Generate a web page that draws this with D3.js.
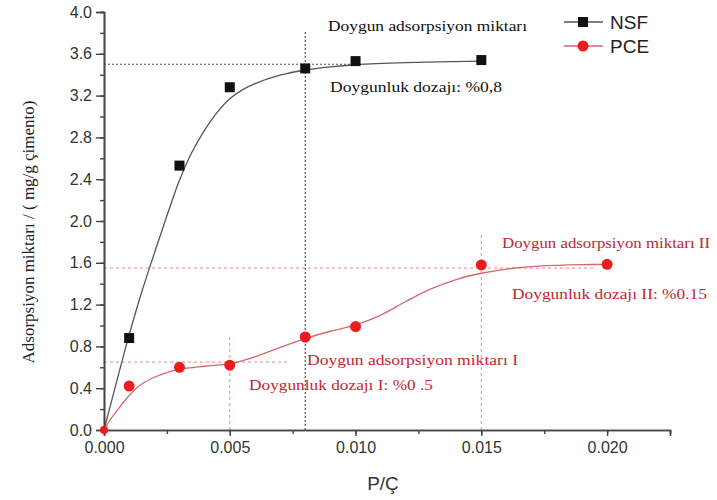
<!DOCTYPE html>
<html>
<head>
<meta charset="utf-8">
<script src="https://cdn.jsdelivr.net/npm/d3@7"></script>
<style>
  html, body { margin: 0; padding: 0; background: #fff; }
  svg { display: block; }
</style>
</head>
<body>
<svg id="chart" width="717" height="500"></svg>
<script>
// Measured adsorption points (dosage P/Ç vs adsorbed amount, mg/g cement)
const dosages = [0, 0.001, 0.003, 0.005, 0.008, 0.010, 0.015, 0.020];
const nsfValues = [0, 0.88, 2.53, 3.28, 3.46, 3.53, 3.54, null];
const pceValues = [0, 0.42, 0.60, 0.62, 0.89, 0.99, 1.58, 1.585];

// Fitted curves, sampled along the dosage axis
const nsfFitX = [0, 0.0005, 0.001, 0.0015, 0.002, 0.0025, 0.003, 0.0035, 0.004, 0.0045, 0.005, 0.0055, 0.006, 0.007, 0.008, 0.009, 0.010, 0.012, 0.015];
const nsfFitY = [0, 0.46, 0.91, 1.32, 1.69, 2.05, 2.39, 2.66, 2.87, 3.04, 3.17, 3.255, 3.315, 3.395, 3.445, 3.475, 3.495, 3.515, 3.53];
const pceFitX = [0, 0.00025, 0.0005, 0.001, 0.0015, 0.002, 0.0025, 0.003, 0.004, 0.005, 0.006, 0.007, 0.008, 0.009, 0.010, 0.011, 0.012, 0.013, 0.014, 0.015, 0.016, 0.017, 0.018, 0.019, 0.020];
const pceFitY = [0, 0.10, 0.18, 0.33, 0.44, 0.505, 0.55, 0.58, 0.61, 0.635, 0.70, 0.79, 0.875, 0.945, 1.005, 1.10, 1.23, 1.35, 1.44, 1.50, 1.54, 1.563, 1.575, 1.582, 1.585];

// Saturation guide lines: [x1, y1, x2, y2] in data units
const nsfGuides = [[0, 3.5, 0.010, 3.5], [0.008, 0, 0.008, 3.82]];
const pceGuides = [[0, 1.55, 0.0195, 1.55], [0.015, 0, 0.015, 1.87], [0, 0.65, 0.0073, 0.65], [0.005, 0, 0.005, 0.9]];

// Annotation texts
const nsfNotes = ["Doygun adsorpsiyon miktarı", "Doygunluk dozajı: %0,8"];
const pceNotes = ["Doygun adsorpsiyon miktarı II", "Doygunluk dozajı II: %0.15", "Doygun adsorpsiyon miktarı I", "Doygunluk dozajı I: %0 .5"];

const seriesNames = ["NSF", "PCE"];
const xTicks = [0, 0.005, 0.010, 0.015, 0.020];
const yTicks = [0, 0.4, 0.8, 1.2, 1.6, 2.0, 2.4, 2.8, 3.2, 3.6, 4.0];
const xLabel = "P/Ç";
const yLabel = "Adsorpsiyon miktarı / ( mg/g çimento)";

const svg = d3.select("#chart");
const m = { left: 104, top: 12, right: 670, bottom: 430 };

const x = d3.scaleLinear().domain([0, 0.0225]).range([m.left, m.right]);
const y = d3.scaleLinear().domain([0, 4.0]).range([m.bottom, m.top]);

const BLACK = "#111";
const RED = "#ec1c1c";
const RED_TEXT = "#c4262e";
const RED_LINE = "#d8676b";
const RED_GUIDE = "#e9a0a3";
const GREY_LINE = "#555";

// Guide lines
const guideG = svg.append("g");
guideG.selectAll("line.nsf").data(nsfGuides).join("line")
  .attr("x1", d => x(d[0])).attr("y1", d => y(d[1]))
  .attr("x2", d => x(d[2])).attr("y2", d => y(d[3]))
  .attr("stroke", "#555").attr("stroke-width", 1.2).attr("stroke-dasharray", "2,2");
guideG.selectAll("line.pce").data(pceGuides).join("line")
  .attr("x1", d => x(d[0])).attr("y1", d => y(d[1]))
  .attr("x2", d => x(d[2])).attr("y2", d => y(d[3]))
  .attr("stroke", RED_GUIDE).attr("stroke-width", 1.2).attr("stroke-dasharray", "3,3");

// Fitted curves
const line = d3.line().x(d => x(d[0])).y(d => y(d[1])).curve(d3.curveCatmullRom.alpha(0.5));
svg.append("path").datum(nsfFitX.map((v, i) => [v, nsfFitY[i]]))
  .attr("d", line).attr("fill", "none").attr("stroke", GREY_LINE).attr("stroke-width", 1.3);
svg.append("path").datum(pceFitX.map((v, i) => [v, pceFitY[i]]))
  .attr("d", line).attr("fill", "none").attr("stroke", RED_LINE).attr("stroke-width", 1.3);

// Axes
const xAxis = d3.axisBottom(x).tickValues(xTicks).tickFormat(d3.format(".3f")).tickSize(6).tickPadding(6);
const yAxis = d3.axisLeft(y).tickValues(yTicks).tickFormat(d3.format(".1f")).tickSize(8).tickPadding(4);
const xMinor = d3.axisBottom(x).tickValues(d3.range(0, 0.0226, 0.0025)).tickFormat("").tickSize(4);
const yMinor = d3.axisLeft(y).tickValues(d3.range(0, 4.01, 0.2)).tickFormat("").tickSize(4);

function styleAxis(g) {
  g.select(".domain").attr("stroke", "#444").attr("stroke-width", 1.6);
  g.selectAll(".tick line").attr("stroke", "#444").attr("stroke-width", 1.4);
  g.selectAll(".tick text").attr("fill", "#333").attr("font-family", "'Liberation Sans', Arial, sans-serif").attr("font-size", 16);
}
svg.append("g").attr("transform", `translate(0,${m.bottom})`).call(xMinor).call(styleAxis);
svg.append("g").attr("transform", `translate(${m.left},0)`).call(yMinor).call(styleAxis);
svg.append("g").attr("transform", `translate(0,${m.bottom})`).call(xAxis).call(styleAxis);
svg.append("g").attr("transform", `translate(${m.left},0)`).call(yAxis).call(styleAxis);

// Axis titles
svg.append("text").attr("x", 383).attr("y", 490).attr("text-anchor", "middle")
  .attr("font-family", "'Liberation Sans', Arial, sans-serif").attr("font-size", 19).attr("fill", "#333")
  .text(xLabel);
svg.append("text").attr("transform", "translate(34,232) rotate(-90)").attr("text-anchor", "middle")
  .attr("font-family", "'Liberation Serif', 'Times New Roman', serif").attr("font-size", 17).attr("fill", "#222")
  .attr("textLength", 263).attr("lengthAdjust", "spacingAndGlyphs")
  .text(yLabel);

// Markers
const nsfPts = dosages.map((d, i) => [d, nsfValues[i]]).filter(p => p[1] !== null && p[0] > 0);
const pcePts = dosages.map((d, i) => [d, pceValues[i]]);
svg.append("g").selectAll("rect").data(nsfPts).join("rect")
  .attr("x", d => x(d[0]) - 5).attr("y", d => y(d[1]) - 5)
  .attr("width", 10).attr("height", 10).attr("fill", BLACK);
svg.append("g").selectAll("circle").data(pcePts).join("circle")
  .attr("cx", d => x(d[0])).attr("cy", d => y(d[1]))
  .attr("r", d => d[0] === 0 ? 4 : 5.5).attr("fill", RED);

// Annotations: [text, left x, baseline y, width, colour]
const serif = "'Liberation Serif', 'Times New Roman', serif";
const noteLayout = [
  [nsfNotes[0], 328, 31, 199, "#111"],
  [nsfNotes[1], 330, 92, 172, "#111"],
  [pceNotes[0], 502, 248, 208, RED_TEXT],
  [pceNotes[1], 512, 299, 195, RED_TEXT],
  [pceNotes[2], 307, 365, 211, RED_TEXT],
  [pceNotes[3], 249, 390, 184, RED_TEXT]
];
svg.append("g").selectAll("text").data(noteLayout).join("text")
  .attr("x", d => d[1]).attr("y", d => d[2])
  .attr("font-family", serif).attr("font-size", 15).attr("fill", d => d[4])
  .attr("textLength", d => d[3]).attr("lengthAdjust", "spacingAndGlyphs")
  .text(d => d[0]);

// Legend
const legend = svg.append("g");
const legendRows = [
  { name: seriesNames[0], y: 22, color: BLACK, lineColor: GREY_LINE, shape: "square" },
  { name: seriesNames[1], y: 46, color: RED, lineColor: RED_LINE, shape: "circle" }
];
legendRows.forEach(r => {
  legend.append("line").attr("x1", 564).attr("x2", 603).attr("y1", r.y).attr("y2", r.y)
    .attr("stroke", r.lineColor).attr("stroke-width", 1.3);
  if (r.shape === "square") {
    legend.append("rect").attr("x", 578).attr("y", r.y - 5).attr("width", 10).attr("height", 10).attr("fill", r.color);
  } else {
    legend.append("circle").attr("cx", 583).attr("cy", r.y).attr("r", 5.5).attr("fill", r.color);
  }
  legend.append("text").attr("x", 610).attr("y", r.y + 7)
    .attr("font-family", "'Liberation Sans', Arial, sans-serif").attr("font-size", 19).attr("fill", "#222")
    .text(r.name);
});
</script>
</body>
</html>
